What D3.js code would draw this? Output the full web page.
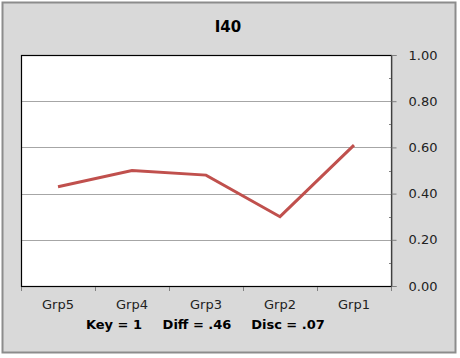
<!DOCTYPE html>
<html>
<head>
<meta charset="utf-8">
<script src="https://cdn.jsdelivr.net/npm/d3@7"></script>
<style>
  body { margin: 0; background: #fff; }
  text { font-family: "DejaVu Sans", Verdana, sans-serif; }
</style>
</head>
<body>
<div id="chart"></div>
<script>
const groups = ["Grp5", "Grp4", "Grp3", "Grp2", "Grp1"];
const values = [0.43, 0.50, 0.48, 0.30, 0.61];
const yTicks = [0, 0.2, 0.4, 0.6, 0.8, 1.0];
const title = "I40";
const footer = ["Key = 1", "Diff = .46", "Disc = .07"];

var width = 460, height = 358;
var plot = {left: 21, right: 391, top: 55, bottom: 286};

var svg = d3.select("#chart").append("svg")
    .attr("width", width)
    .attr("height", height);

// outer panel
svg.append("rect")
    .attr("x", 2.5).attr("y", 2.5)
    .attr("width", 453).attr("height", 350)
    .style("fill", "#d9d9d9")
    .style("stroke", "#8c8c8c")
    .style("stroke-width", 2);

svg.append("text")
    .attr("x", 228).attr("y", 32)
    .attr("text-anchor", "middle")
    .style("font-size", "15px")
    .style("font-weight", "bold")
    .text(title);

var xScale = d3.scaleBand().domain(groups).range([plot.left, plot.right]);
var yScale = d3.scaleLinear().domain([0, 1]).range([plot.bottom, plot.top]);

// plot area
svg.append("rect")
    .attr("x", plot.left).attr("y", plot.top)
    .attr("width", plot.right - plot.left)
    .attr("height", plot.bottom - plot.top)
    .style("fill", "#fff");

// gridlines
svg.append("g").selectAll("line")
    .data(yTicks.filter(d => d > 0 && d < 1))
    .join("line")
    .attr("x1", plot.left).attr("x2", plot.right)
    .attr("y1", d => Math.round(yScale(d)) + 0.5)
    .attr("y2", d => Math.round(yScale(d)) + 0.5)
    .style("stroke", "#a6a6a6")
    .style("stroke-width", 1);

// plot border
svg.append("rect")
    .attr("x", plot.left + 0.5).attr("y", plot.top + 0.5)
    .attr("width", plot.right - plot.left)
    .attr("height", plot.bottom - plot.top)
    .style("fill", "none")
    .style("stroke", "#000")
    .style("stroke-width", 1.2);

// right axis
let yAxis = d3.axisRight(yScale)
    .tickValues(yTicks)
    .tickSize(5)
    .tickPadding(12)
    .tickFormat(d3.format(".2f"));

var yAxisG = svg.append("g")
    .attr("transform", `translate(${plot.right + 0.5},0)`)
    .call(yAxis);
yAxisG.select(".domain").style("stroke", "#808080");
yAxisG.selectAll(".tick line").style("stroke", "#808080");
yAxisG.selectAll("text").style("font-size", "13px").style("fill", "#222");

// minor ticks inside
svg.append("g").selectAll("line")
    .data(d3.range(0.1, 1, 0.2))
    .join("line")
    .attr("x1", plot.right - 2).attr("x2", plot.right)
    .attr("y1", d => Math.round(yScale(d)) + 0.5)
    .attr("y2", d => Math.round(yScale(d)) + 0.5)
    .style("stroke", "#808080");

// x axis ticks at band edges
var edges = groups.map(g => xScale(g)).concat([plot.right]);
svg.append("g").selectAll("line")
    .data(edges)
    .join("line")
    .attr("x1", d => Math.round(d) + 0.5).attr("x2", d => Math.round(d) + 0.5)
    .attr("y1", plot.bottom + 1).attr("y2", plot.bottom + 5)
    .style("stroke", "#808080");

svg.append("g").selectAll("text")
    .data(groups)
    .join("text")
    .attr("x", d => xScale(d) + xScale.bandwidth() / 2)
    .attr("y", 309)
    .attr("text-anchor", "middle")
    .style("font-size", "13px")
    .style("fill", "#222")
    .text(d => d);

// footer
var footerX = [114, 197, 288];
svg.append("g").selectAll("text")
    .data(footer)
    .join("text")
    .attr("x", (d, i) => footerX[i])
    .attr("y", 329)
    .attr("text-anchor", "middle")
    .style("font-size", "13px")
    .style("font-weight", "bold")
    .text(d => d);

// series line
var line = d3.line()
    .x((d, i) => xScale(groups[i]) + xScale.bandwidth() / 2)
    .y(d => yScale(d));

svg.append("path")
    .datum(values)
    .attr("d", line)
    .style("fill", "none")
    .style("stroke", "#c0504d")
    .style("stroke-width", 3);
</script>
</body>
</html>
